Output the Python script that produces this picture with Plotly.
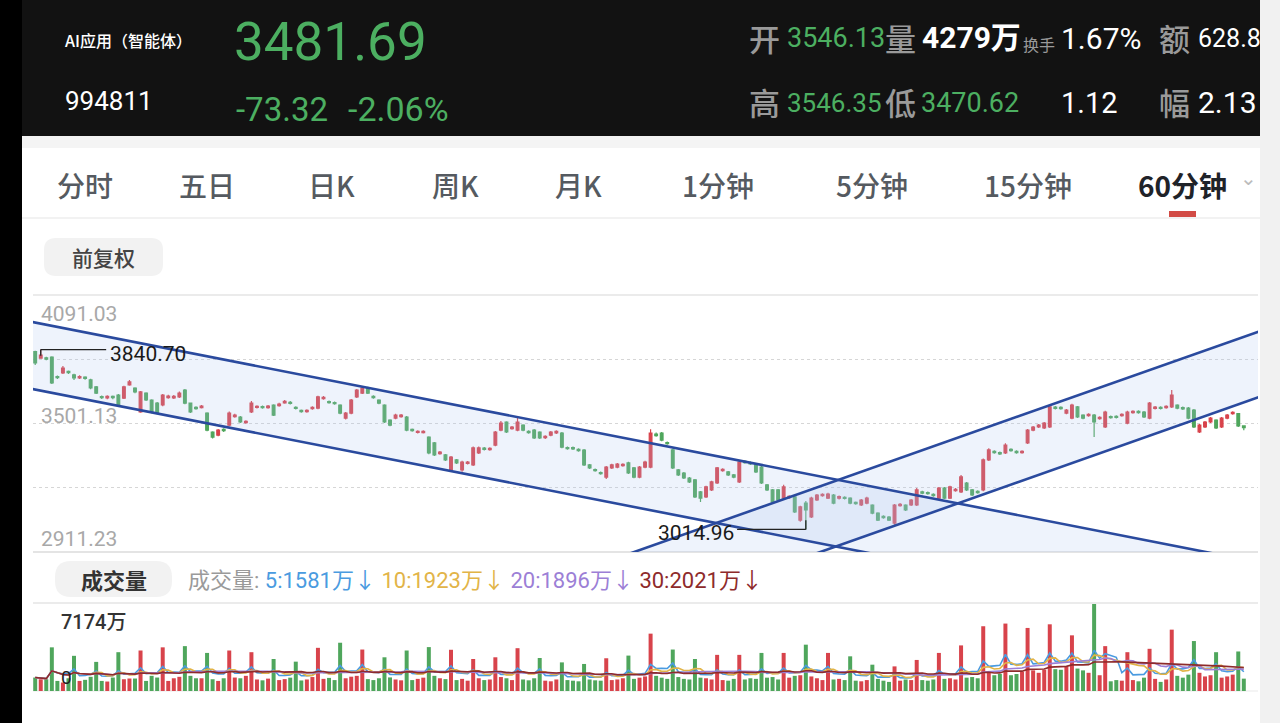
import plotly.graph_objects as go
import pandas as pd

W, H = 1280, 723

# ---------------- data ----------------
open_ = [
    3831, 3801, 3803, 3806, 3717, 3733, 3740, 3724, 3710, 3714,
    3701, 3669, 3625, 3619, 3626, 3632, 3618, 3678, 3664, 3554,
    3641, 3609, 3595, 3586, 3620, 3619, 3623, 3655, 3595, 3575,
    3574, 3549, 3462, 3448, 3474, 3494, 3533, 3531, 3505, 3554,
    3575, 3579, 3574, 3586, 3583, 3596, 3598, 3575, 3561, 3556,
    3569, 3572, 3615, 3602, 3597, 3586, 3526, 3549, 3623, 3641,
    3664, 3626, 3609, 3586, 3517, 3526, 3533, 3531, 3474, 3460,
    3459, 3439, 3412, 3363, 3357, 3288, 3334, 3288, 3318, 3311,
    3366, 3388, 3381, 3402, 3471, 3508, 3478, 3471, 3494, 3465,
    3471, 3462, 3436, 3448, 3458, 3457, 3391, 3390, 3382, 3379,
    3311, 3290, 3276, 3255, 3297, 3301, 3308, 3320, 3297, 3255,
    3301, 3301, 3452, 3457, 3414, 3380, 3288, 3274, 3251, 3242,
    3187, 3164, 3196, 3228, 3285, 3279, 3265, 3233, 3327, 3322,
    3311, 3301, 3219, 3196, 3196, 3159, 3161, 3164, 3058, 3136,
    3072, 3150, 3170, 3159, 3173, 3158, 3162, 3159, 3139, 3127,
    3136, 3127, 3090, 3075, 3072, 3044, 3124, 3127, 3127, 3127,
    3187, 3184, 3176, 3159, 3205, 3159, 3193, 3187, 3228, 3196,
    3190, 3196, 3334, 3373, 3368, 3366, 3383, 3373, 3367, 3412,
    3471, 3485, 3481, 3485, 3576, 3575, 3549, 3526, 3577, 3540,
    3537, 3540, 3523, 3485, 3533, 3534, 3537, 3503, 3551, 3557,
    3554, 3526, 3570, 3575, 3574, 3577, 3586, 3574, 3572, 3563,
    3462, 3485, 3508, 3517, 3485, 3526, 3546, 3546.13, 3490,
]
high_ = [
    3835, 3840.70, 3808, 3810, 3722, 3765, 3745, 3729, 3723, 3718,
    3706, 3673, 3630, 3631, 3630, 3636, 3675, 3701, 3668, 3650,
    3645, 3613, 3600, 3637, 3633, 3632, 3648, 3660, 3598, 3580,
    3586, 3553, 3466, 3476, 3479, 3556, 3546, 3536, 3516, 3604,
    3585, 3584, 3586, 3590, 3596, 3609, 3604, 3580, 3565, 3566,
    3580, 3629, 3627, 3607, 3602, 3590, 3554, 3614, 3660, 3673,
    3670, 3631, 3613, 3590, 3521, 3546, 3545, 3535, 3478, 3470,
    3470, 3443, 3416, 3375, 3361, 3352, 3338, 3330, 3329, 3395,
    3395, 3393, 3392, 3467, 3513, 3512, 3490, 3526, 3498, 3470,
    3476, 3466, 3447, 3467, 3470, 3462, 3396, 3395, 3387, 3384,
    3315, 3295, 3281, 3306, 3316, 3320, 3319, 3325, 3301, 3306,
    3330, 3475, 3460, 3462, 3419, 3385, 3292, 3278, 3255, 3246,
    3191, 3215, 3238, 3302, 3296, 3283, 3269, 3329, 3332, 3327,
    3315, 3306, 3223, 3200, 3200, 3220, 3172, 3168, 3123, 3145,
    3165, 3178, 3181, 3183, 3178, 3171, 3167, 3163, 3143, 3155,
    3165, 3131, 3094, 3080, 3076, 3132, 3136, 3131, 3155, 3205,
    3192, 3189, 3181, 3210, 3210, 3215, 3205, 3265, 3233, 3200,
    3195, 3340, 3388, 3378, 3373, 3410, 3388, 3378, 3378, 3476,
    3490, 3499, 3508, 3585, 3581, 3580, 3568, 3592, 3581, 3544,
    3548, 3545, 3534, 3560, 3538, 3539, 3548, 3560, 3562, 3562,
    3558, 3600, 3581, 3580, 3585, 3655, 3590, 3579, 3577, 3568,
    3499, 3513, 3531, 3521, 3531, 3545, 3557, 3546.35, 3492,
]
low_ = [
    3770, 3798, 3792, 3682, 3705, 3728, 3728, 3701, 3705, 3702,
    3658, 3636, 3614, 3612, 3613, 3580, 3614, 3674, 3640, 3550,
    3604, 3548, 3544, 3580, 3615, 3614, 3618, 3590, 3549, 3564,
    3570, 3466, 3432, 3443, 3462, 3489, 3528, 3503, 3500, 3549,
    3570, 3569, 3569, 3535, 3578, 3592, 3588, 3565, 3551, 3551,
    3564, 3567, 3610, 3592, 3587, 3544, 3520, 3544, 3618, 3637,
    3636, 3615, 3590, 3503, 3489, 3521, 3528, 3466, 3463, 3455,
    3455, 3360, 3352, 3358, 3329, 3279, 3315, 3280, 3313, 3306,
    3361, 3377, 3376, 3397, 3466, 3457, 3473, 3466, 3466, 3454,
    3430, 3430, 3430, 3443, 3453, 3388, 3381, 3380, 3372, 3306,
    3292, 3280, 3266, 3246, 3292, 3296, 3303, 3269, 3250, 3250,
    3296, 3296, 3440, 3420, 3404, 3292, 3260, 3246, 3228, 3159,
    3141, 3159, 3191, 3223, 3280, 3260, 3250, 3228, 3316, 3311,
    3274, 3223, 3191, 3136, 3145, 3154, 3155, 3090, 3050, 3014.96,
    3067, 3145, 3165, 3154, 3131, 3152, 3152, 3131, 3128, 3122,
    3131, 3085, 3053, 3064, 3053, 3036, 3119, 3099, 3122, 3122,
    3176, 3174, 3165, 3154, 3154, 3154, 3188, 3182, 3191, 3168,
    3179, 3190, 3329, 3362, 3357, 3361, 3372, 3362, 3362, 3407,
    3466, 3480, 3476, 3480, 3565, 3564, 3544, 3521, 3526, 3521,
    3532, 3439, 3518, 3480, 3523, 3524, 3532, 3498, 3546, 3546,
    3526, 3521, 3565, 3565, 3569, 3572, 3567, 3563, 3521, 3480,
    3457, 3480, 3503, 3476, 3480, 3521, 3541, 3485, 3470.62,
]
close_ = [
    3779, 3815, 3797, 3687, 3712, 3756, 3734, 3710, 3717, 3708,
    3664, 3641, 3620, 3626, 3620, 3586, 3669, 3692, 3646, 3646,
    3609, 3554, 3549, 3632, 3627, 3626, 3641, 3595, 3554, 3569,
    3581, 3471, 3439, 3471, 3468, 3549, 3540, 3508, 3511, 3595,
    3580, 3574, 3581, 3540, 3590, 3603, 3593, 3570, 3556, 3561,
    3575, 3623, 3621, 3597, 3592, 3549, 3549, 3609, 3655, 3664,
    3641, 3620, 3595, 3508, 3494, 3540, 3540, 3471, 3468, 3465,
    3465, 3366, 3357, 3370, 3334, 3347, 3320, 3324, 3324, 3389,
    3389, 3382, 3387, 3462, 3503, 3462, 3485, 3508, 3471, 3459,
    3435, 3435, 3442, 3462, 3465, 3393, 3386, 3385, 3377, 3311,
    3297, 3285, 3271, 3301, 3311, 3315, 3314, 3274, 3255, 3301,
    3324, 3457, 3445, 3425, 3409, 3297, 3265, 3251, 3233, 3164,
    3159, 3210, 3233, 3297, 3291, 3265, 3255, 3324, 3321, 3316,
    3279, 3228, 3196, 3141, 3150, 3210, 3167, 3095, 3118, 3104,
    3159, 3173, 3176, 3177, 3136, 3165, 3157, 3136, 3133, 3150,
    3159, 3090, 3058, 3069, 3058, 3127, 3130, 3104, 3150, 3196,
    3181, 3179, 3170, 3205, 3159, 3210, 3199, 3256, 3196, 3173,
    3184, 3334, 3380, 3367, 3362, 3402, 3377, 3367, 3373, 3471,
    3485, 3494, 3503, 3577, 3570, 3569, 3563, 3586, 3531, 3526,
    3543, 3508, 3529, 3554, 3528, 3529, 3543, 3554, 3557, 3551,
    3531, 3595, 3576, 3570, 3580, 3632, 3572, 3568, 3526, 3485,
    3494, 3508, 3526, 3481, 3526, 3540, 3552, 3490, 3481.69,
]
volume_wan = [
    1110, 970, 970, 3600, 830, 700, 1050, 2900, 830, 920,
    1170, 2400, 830, 780, 1110, 3200, 970, 1030, 1030, 3340,
    830, 1250, 1110, 3600, 830, 1050, 1170, 3700, 1250, 1050,
    1050, 3140, 970, 830, 1050, 3340, 1110, 1050, 1250, 3200,
    950, 880, 1020, 2640, 900, 980, 1100, 2420, 870, 950,
    1150, 3560, 1000, 1080, 900, 3980, 1050, 1180, 1250, 3420,
    980, 900, 1050, 2780, 1120, 950, 880, 3340, 900, 1000,
    1100, 3620, 1250, 1050, 980, 3400, 900, 1000, 850, 2640,
    1050, 900, 950, 2780, 1150, 1050, 900, 3530, 950, 880,
    1050, 2720, 850, 800, 950, 2360, 900, 850, 800, 2230,
    950, 880, 850, 2700, 900, 950, 1050, 2920, 1000, 1100,
    1200, 4730, 1250, 1100, 1000, 3420, 1150, 1000, 950, 2640,
    1100, 1050, 950, 2980, 900, 850, 1000, 2980, 950, 1050,
    1000, 3140, 1100, 1150, 950, 3140, 1100, 1250, 1300, 3820,
    1200, 1050, 900, 3140, 950, 1000, 900, 2860, 850, 800,
    900, 2170, 1000, 850, 750, 2030, 850, 950, 900, 2560,
    900, 850, 950, 3140, 1000, 1050, 950, 3760, 1100, 1150,
    1050, 5340, 1500, 1300, 1400, 5560, 1300, 1400, 1600, 5200,
    1700, 1500, 1750, 5500, 1800, 1750, 2000, 4590, 1850, 1700,
    1500, 7174, 1300, 3700, 800, 900, 850, 3200, 900, 800,
    1100, 3480, 1000, 750, 950, 5060, 1250, 1100, 1350, 4120,
    1500, 1200, 1300, 3200, 1100, 1200, 1350, 3260, 1019,
]

# price axis labels (top / middle / bottom)
price_top, price_mid, price_bottom = 4091.03, 3501.13, 2911.23
max_price, max_idx = 3840.70, 1
min_price, min_idx = 3014.96, 139
vol_max_label = "7174万"
vol_top = 7174

# drawn trend channels: anchor x (candle index) and prices
ch1_x = [-1, 230]
ch1_upper = [3969.4, 2817.2]
ch1_lower = [3661.7, 2509.5]
ch2_x = [100, 230]
ch2_upper = [2839.1, 4007.0]
ch2_lower = [2537.5, 3705.4]

# header quote
quote_name = "AI应用（智能体）"
quote_code = "994811"
quote_last = "3481.69"
quote_chg = "-73.32"
quote_pct = "-2.06%"
row1 = [("开", "3546.13"), ("量", "4279万"), ("换手", "1.67%"), ("额", "628.8")]
row2 = [("高", "3546.35"), ("低", "3470.62"), ("", "1.12"), ("幅", "2.13")]

tab_labels = ["分时", "五日", "日K", "周K", "月K", "1分钟", "5分钟", "15分钟", "60分钟"]
ma_periods = [5, 10, 20, 30]
ma_texts = ["1581万", "1923万", "1896万", "2021万"]
ma_colors = ["#4a9be0", "#e2b447", "#9c7fd6", "#8e2b2b"]

RED = "#d8434b"
GREEN = "#4fa65c"
HGREEN = "#4caf61"
BLUE_LINE = "#2a4a9e"
CJK = "Noto Sans CJK SC"
NUM = "Roboto, Noto Sans CJK SC, sans-serif"

N = len(close_)
idx = list(range(N))

def X(x):
    return x / W

def Y(y):
    return 1 - y / H

fig = go.Figure()

# channel fills
fig.add_trace(go.Scatter(
    x=[ch1_x[0], ch1_x[1], ch1_x[1], ch1_x[0]],
    y=[ch1_upper[0], ch1_upper[1], ch1_lower[1], ch1_lower[0]],
    fill="toself", fillcolor="rgba(170,195,240,0.2)", line=dict(width=0),
    mode="lines", hoverinfo="skip", showlegend=False, xaxis="x", yaxis="y"))
fig.add_trace(go.Scatter(
    x=[ch2_x[0], ch2_x[1], ch2_x[1], ch2_x[0]],
    y=[ch2_upper[0], ch2_upper[1], ch2_lower[1], ch2_lower[0]],
    fill="toself", fillcolor="rgba(170,195,240,0.2)", line=dict(width=0),
    mode="lines", hoverinfo="skip", showlegend=False, xaxis="x", yaxis="y"))

fig.add_trace(go.Candlestick(
    x=idx, open=open_, high=high_, low=low_, close=close_,
    increasing=dict(line=dict(color=RED, width=1.2), fillcolor=RED),
    decreasing=dict(line=dict(color=GREEN, width=1.2), fillcolor=GREEN),
    hoverinfo="skip", showlegend=False, xaxis="x", yaxis="y"))

for xs, ys in [(ch1_x, ch1_upper), (ch1_x, ch1_lower), (ch2_x, ch2_upper), (ch2_x, ch2_lower)]:
    fig.add_trace(go.Scatter(x=xs, y=ys, mode="lines",
                             line=dict(color=BLUE_LINE, width=2.6),
                             hoverinfo="skip", showlegend=False, xaxis="x", yaxis="y"))

# volume
vol_colors = [RED if c >= o else GREEN for o, c in zip(open_, close_)]
fig.add_trace(go.Bar(x=idx, y=volume_wan, marker=dict(color=vol_colors, line=dict(width=0)),
                     hoverinfo="skip", showlegend=False, xaxis="x2", yaxis="y2"))
vs = pd.Series(volume_wan, dtype=float)
for p, col in zip(ma_periods, ma_colors):
    fig.add_trace(go.Scatter(x=idx, y=vs.rolling(p, min_periods=1).mean(), mode="lines",
                             line=dict(color=col, width=1.6), hoverinfo="skip",
                             showlegend=False, xaxis="x2", yaxis="y2"))

xr = [-0.397, 220.56]
grid_vals = [price_bottom + (price_top - price_bottom) * k / 4 for k in (1, 2, 3)]

shapes = []
def rect(x0, y0, x1, y1, color, layer="below"):
    shapes.append(dict(type="rect", xref="paper", yref="paper", x0=X(x0), x1=X(x1),
                       y0=Y(y1), y1=Y(y0), fillcolor=color, line=dict(width=0), layer=layer))

def hline(x0, x1, y, color, w=1.5):
    shapes.append(dict(type="line", xref="paper", yref="paper", x0=X(x0), x1=X(x1),
                       y0=Y(y), y1=Y(y), line=dict(color=color, width=w), layer="below"))

def rrect(x0, y0, x1, y1, r, color):
    p = (f"M {X(x0+r)},{Y(y0)} L {X(x1-r)},{Y(y0)} Q {X(x1)},{Y(y0)} {X(x1)},{Y(y0+r)} "
         f"L {X(x1)},{Y(y1-r)} Q {X(x1)},{Y(y1)} {X(x1-r)},{Y(y1)} L {X(x0+r)},{Y(y1)} "
         f"Q {X(x0)},{Y(y1)} {X(x0)},{Y(y1-r)} L {X(x0)},{Y(y0+r)} Q {X(x0)},{Y(y0)} {X(x0+r)},{Y(y0)} Z")
    shapes.append(dict(type="path", xref="paper", yref="paper", path=p, fillcolor=color,
                       line=dict(width=0), layer="below"))

rect(22, 0, 1260, 136, "#121212")
rect(0, 0, 22, 723, "#000000")
rect(1260, 0, 1280, 723, "#f1f1f1")
rect(22, 136, 1260, 148, "#f4f4f4")
hline(22, 1260, 218, "#eeeeee")
rect(1169, 211, 1196, 217, "#d24b45")
rrect(44, 238, 163, 276, 12, "#f2f2f2")
rrect(55, 561, 172, 597, 16, "#f2f2f2")
hline(33, 1258, 295, "#e4e4e4")
hline(33, 1258, 552, "#e4e4e4", 2)
hline(33, 1258, 603, "#e4e4e4")
hline(33, 1258, 691, "#f0f0f0")

# max / min markers
for (x0, x1, yv) in [(max_idx, max_idx + 11.8, max_price), (min_idx - 12.4, min_idx, min_price)]:
    shapes.append(dict(type="line", xref="x", yref="y", x0=x0, x1=x1, y0=yv, y1=yv,
                       line=dict(color="#222222", width=1.3)))
shapes.append(dict(type="line", xref="x", yref="y", x0=max_idx, x1=max_idx, y0=max_price,
                   y1=max_price - 28, line=dict(color="#222222", width=1.3)))
shapes.append(dict(type="line", xref="x", yref="y", x0=min_idx, x1=min_idx, y0=min_price,
                   y1=min_price + 42, line=dict(color="#222222", width=1.3)))

ann = []
def T(text, x, y, size, color, family=CJK, xanchor="left", weight=400):
    ann.append(dict(text=text, x=X(x), y=Y(y), xref="paper", yref="paper", showarrow=False,
                    xanchor=xanchor, yanchor="middle",
                    font=dict(size=size, color=color, family=family, weight=weight)))

# header
T(quote_name, 63, 40, 16, "#ffffff", weight=500)
T(quote_last, 232, 42, 53, HGREEN, NUM)
T(quote_code, 63, 101, 26, "#ffffff", NUM)
T(quote_chg, 234, 109, 33, HGREEN, NUM)
T(quote_pct, 346, 109, 34, HGREEN, NUM)

T(row1[0][0], 764, 37, 31, "#9a9a9a", xanchor="center", weight=500)
T(row1[0][1], 785, 38, 27, HGREEN, NUM)
T(row1[1][0], 900, 37, 31, "#9a9a9a", xanchor="center", weight=500)
T(row1[1][1], 920, 37, 30, "#ffffff", NUM, weight=700)
T(row1[2][0], 1021, 44, 16, "#9a9a9a")
T(row1[2][1], 1059, 38, 30, "#ffffff", NUM)
T(row1[3][0], 1174, 37, 31, "#9a9a9a", xanchor="center", weight=500)
T(row1[3][1], 1196, 38, 25, "#ffffff", NUM)

T(row2[0][0], 764, 102, 31, "#9a9a9a", xanchor="center", weight=500)
T(row2[0][1], 785, 103, 26, HGREEN, NUM)
T(row2[1][0], 900, 102, 31, "#9a9a9a", xanchor="center", weight=500)
T(row2[1][1], 919, 103, 27, HGREEN, NUM)
T(row2[2][1], 1059, 103, 29, "#ffffff", NUM)
T(row2[3][0], 1174, 102, 31, "#9a9a9a", xanchor="center", weight=500)
T(row2[3][1], 1196, 103, 30, "#ffffff", NUM)

# tabs
tab_cx = [85, 207, 331, 455, 578, 718, 872, 1028, 1182]
for lab, cx in zip(tab_labels, tab_cx):
    sel = lab == "60分钟"
    T(lab, cx, 185, 28, "#1f2329" if sel else "#555a60", xanchor="center",
      weight=700 if sel else 500)
T("⌄", 1248, 178, 20, "#bbbbbb", "DejaVu Sans", xanchor="center")
T("前复权", 103, 257, 21, "#444444", xanchor="center", weight=500)

# price labels
T(f"{price_top:.2f}", 39, 314, 21, "#a8a8a8", NUM)
T(f"{price_mid:.2f}", 39, 416, 21, "#a8a8a8", NUM)
T(f"{price_bottom:.2f}", 39, 539, 21, "#a8a8a8", NUM)

ann.append(dict(text=f"{max_price:.2f}", x=max_idx + 12.1, y=max_price, xref="x", yref="y",
                showarrow=False, xanchor="left", yanchor="middle", yshift=-4,
                font=dict(size=21, color="#1a1a1a", family=NUM)))
ann.append(dict(text=f"{min_price:.2f}", x=min_idx - 12.6, y=min_price, xref="x", yref="y",
                showarrow=False, xanchor="right", yanchor="middle", yshift=-4,
                font=dict(size=21, color="#1a1a1a", family=NUM)))

# volume header
T("成交量", 114, 579, 22, "#333333", xanchor="center", weight=600)
legend = "<span style='color:#9a9a9a'>成交量: </span>" + " ".join(
    f"<span style='color:{c}'>{p}:{t}↓</span>" for p, t, c in zip(ma_periods, ma_texts, ma_colors))
T(legend, 186, 580, 22, "#9a9a9a", "Roboto, Noto Sans CJK SC")
T(vol_max_label, 59, 622, 20, "#333333", NUM, weight=500)
T("0", 66, 677, 19, "#222222", NUM, xanchor="center")

fig.update_layout(
    width=W, height=H, margin=dict(l=0, r=0, t=0, b=0),
    paper_bgcolor="#ffffff", plot_bgcolor="rgba(0,0,0,0)",
    showlegend=False, boxgap=0.3, bargap=0.28,
    xaxis=dict(domain=[X(33), X(1258)], range=xr, visible=False, rangeslider=dict(visible=False),
               anchor="y", fixedrange=True),
    yaxis=dict(domain=[Y(552), Y(295)], range=[price_bottom, price_top], tickvals=grid_vals,
               showgrid=True, gridcolor="#d6d6d6", griddash="dot", gridwidth=1,
               showticklabels=False, zeroline=False, ticks="", showline=False, anchor="x"),
    xaxis2=dict(domain=[X(33), X(1258)], range=xr, visible=False, anchor="y2"),
    yaxis2=dict(domain=[Y(691), Y(604)], range=[0, vol_top], showgrid=False,
                showticklabels=False, zeroline=False, anchor="x2"),
    shapes=shapes, annotations=ann,
)

fig.write_html("out.html", config={"displayModeBar": False},
               post_script="document.body.style.margin='0';document.body.style.padding='0';"
                           "document.body.style.overflow='hidden';")
